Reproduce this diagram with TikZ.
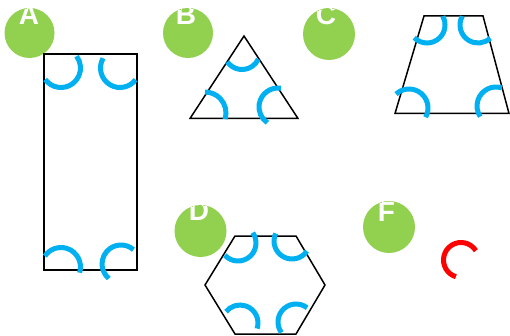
\documentclass[tikz,border=0pt]{standalone}
\usepackage{fontspec}
\newfontfamily\labfont{Liberation Sans}
\definecolor{mgreen}{RGB}{146,208,80}
\definecolor{mblue}{RGB}{0,176,240}
\definecolor{mred}{RGB}{255,0,0}
\newcommand{\labtxt}[1]{{\labfont\bfseries\fontsize{28pt}{28pt}\selectfont #1}}
\tikzset{
  badge/.style={fill=mgreen, draw=none},
  badgetext/.style={text=white, anchor=base, inner sep=0pt},
  shapeline/.style={draw=black, line width=1.5pt, line join=miter},
  angmark/.style={draw=mblue, line width=5pt},
  redmark/.style={draw=mred, line width=5pt},
}
\newcommand{\angarc}[6]{\draw[#1] (#2,#3) ++(#5:#4pt) arc[start angle=#5, end angle=#6, radius=#4pt];}
\begin{document}
\begin{tikzpicture}[x=1pt,y=-1pt]
\useasboundingbox (0,0) rectangle (510,336);
% badges
\fill[badge] (29.5,33) circle[radius=25pt];
\begin{scope}\clip (29.5,33) circle[radius=25pt];
\node[badgetext] (la) at (29,25) {\labtxt{A}};\end{scope}
\fill[badge] (188,33) circle[radius=25pt];
\begin{scope}\clip (188,33) circle[radius=25pt];
\node[badgetext] (lb) at (186,25) {\labtxt{B}};\end{scope}
\fill[badge] (329,34) circle[radius=26pt];
\begin{scope}\clip (329,34) circle[radius=26pt];
\node[badgetext] (lc) at (326,25) {\labtxt{C}};\end{scope}
\fill[badge] (200.5,231) circle[radius=26pt];
\begin{scope}\clip (200.5,231) circle[radius=26pt];
\node[badgetext] (ld) at (199,221) {\labtxt{D}};\end{scope}
\fill[badge] (389,227) circle[radius=26pt];
\begin{scope}\clip (389,227) circle[radius=26pt];
\node[badgetext] (lf) at (386.5,222) {\labtxt{F}};\end{scope}
% shapes
\draw[shapeline] (44,54) rectangle (137,270);
\draw[shapeline] (244,36) -- (298,118.5) -- (190,118.5) -- cycle;
\draw[shapeline] (424,16) -- (483,16) -- (509,113.5) -- (395,113.5) -- cycle;
\draw[shapeline] (235,236) -- (296,236) -- (325,285) -- (296,334) -- (235,334) -- (205,285) -- cycle;
% rectangle marks
\angarc{angmark}{61}{68}{19.5}{-144}{37}
\angarc{angmark}{120}{68}{19.5}{150}{323}
\angarc{angmark}{61}{267}{19.5}{-17}{146}
\angarc{angmark}{121}{264}{19}{49}{230}
% triangle marks
\angarc{angmark}{242}{51.5}{18}{215}{335}
\angarc{angmark}{205}{113}{21}{-17}{90}
\angarc{angmark}{278}{107}{19}{81}{236}
% trapezoid marks
\angarc{angmark}{427}{25}{18}{225}{389}
\angarc{angmark}{478}{25}{18}{151}{313}
\angarc{angmark}{409}{108}{19}{-29}{133}
\angarc{angmark}{496}{106}{19}{72}{214}
% hexagon marks
\angarc{angmark}{238}{243}{18}{223}{395}
\angarc{angmark}{292}{241}{18}{155}{326}
\angarc{angmark}{240}{323}{18}{-18}{141}
\angarc{angmark}{296}{322}{18}{52}{216}
% red mark
\angarc{redmark}{461}{260}{17.5}{32}{253}
\end{tikzpicture}
\end{document}
